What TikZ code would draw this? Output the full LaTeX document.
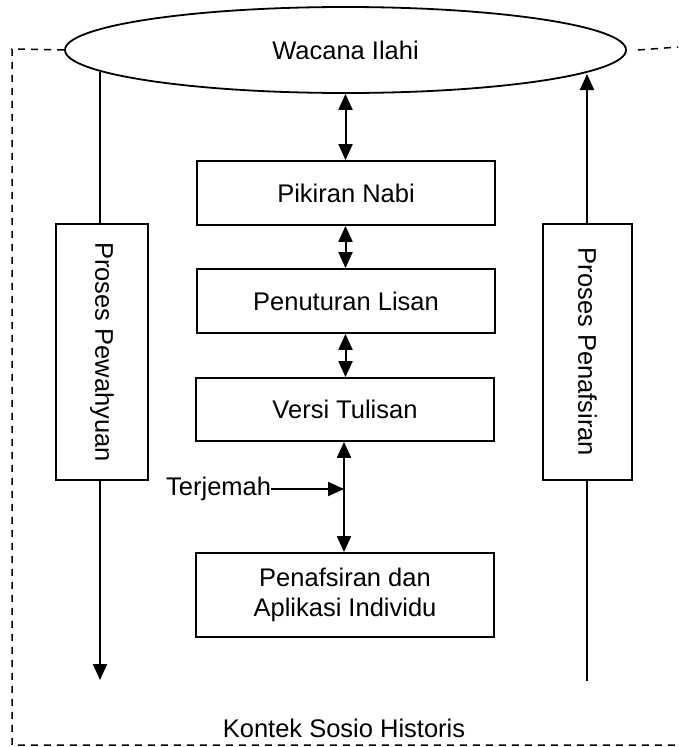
\documentclass[tikz,border=0pt]{standalone}
\usepackage{fontspec}
\setmainfont{Liberation Sans}
\usetikzlibrary{arrows.meta,shapes.geometric}
\begin{document}
\begin{tikzpicture}[x=1pt,y=-1pt,
  every node/.style={font=\fontsize{25.5}{29.5}\selectfont},
  box/.style={draw,line width=1.8pt,inner sep=0pt},
  link/.style={line width=2pt},
  tip/.style={link,-{Triangle[width=14pt,length=16pt]}},
  both/.style={link,{Triangle[width=14pt,length=16pt]}-{Triangle[width=14pt,length=16pt]}},
  border/.style={line width=1.5pt,dash pattern=on 7pt off 6pt}]
\useasboundingbox (0,0) rectangle (678,747);

% top ellipse
\node[draw,ellipse,line width=1.8pt,inner sep=0pt,minimum width=561pt,minimum height=86pt] (wac) at (345.5,50) {Wacana Ilahi};

% centre column
\node[box,minimum width=298pt,minimum height=64pt] (pn) at (346,193) {Pikiran Nabi};
\node[box,minimum width=298pt,minimum height=64pt] (pl) at (346,301) {Penuturan Lisan};
\node[box,minimum width=298pt,minimum height=63pt] (vt) at (345,409.5) {Versi Tulisan};
\node[box,minimum width=298pt,minimum height=84pt,align=center] (pa) at (345,595) {Penafsiran dan\\Aplikasi Individu};

% side boxes
\node[box,minimum width=92pt,minimum height=256pt] (lbox) at (102,352) {\rotatebox{-90}{Proses Pewahyuan}};
\node[box,minimum width=89pt,minimum height=256pt] (rbox) at (587.5,352) {\rotatebox{-90}{Proses Penafsiran}};

% labels
\node[anchor=west,inner sep=0pt] (tj) at (166,489) {Terjemah};
\node[inner sep=0pt] (ks) at (344,728) {Kontek Sosio Historis};

% coordinates
\coordinate (lt) at (100,72);
\coordinate (lb) at (100,680);
\coordinate (rt) at (587,74);
\coordinate (rb) at (587,681);
\coordinate (tjm) at (344,489);
\coordinate (btl) at (12,49);
\coordinate (bbl) at (12,745);
\coordinate (bbr) at (678,745);
\coordinate (btr) at (678,47);

% centre arrows
\draw[both] (wac.south) -- (wac.south |- pn.north);
\draw[both] (pn.south -| wac.south) -- (pl.north -| wac.south);
\draw[both] (pl.south -| wac.south) -- (vt.north -| wac.south);
\draw[both] (vt.south -| tjm) -- (pa.north -| tjm);
\draw[tip] (tj.east) -- (tjm);

% side lines
\draw[link] (lt) -- (lt |- lbox.north);
\draw[tip] (lt |- lbox.south) -- (lb);
\draw[link] (rb) -- (rb |- rbox.south);
\draw[tip] (rt |- rbox.north) -- (rt);

% dashed border
\draw[border] (wac.west) -- (btl) -- (bbl) -- (bbr);
\draw[border] ([xshift=11pt]wac.east) -- (btr);
\end{tikzpicture}
\end{document}
